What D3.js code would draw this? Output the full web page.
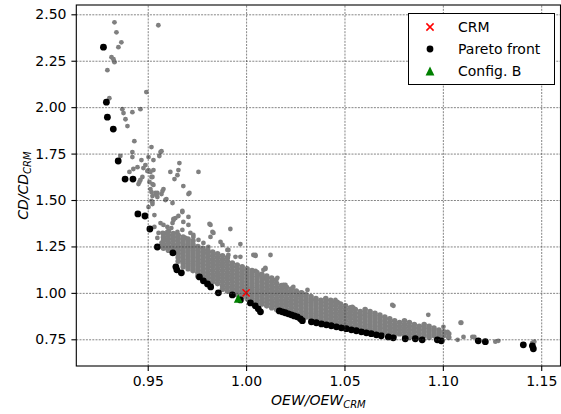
<!DOCTYPE html>
<html>
<head>
<meta charset="utf-8">
<script src="https://cdn.jsdelivr.net/npm/d3@7"></script>
<style>
  body { margin: 0; background: #fff; }
  svg { display: block; font-family: "DejaVu Sans", sans-serif; }
</style>
</head>
<body>
<svg id="chart"></svg>
<script>
// tick values
const xTicks = [0.95, 1.00, 1.05, 1.10, 1.15]
const yTicks = [0.75, 1.00, 1.25, 1.50, 1.75, 2.00, 2.25, 2.50]

// reference design and the chosen config
const crm = [1.000, 1.000]
const configB = [0.996, 0.970]

// non-dominated designs (OEW ratio, CD ratio)
const pareto = [
  [0.9275, 2.323], [0.9290, 2.027], [0.9295, 1.946], [0.9325, 1.882], [0.9350, 1.710],
  [0.9385, 1.613], [0.9425, 1.613], [0.9450, 1.425], [0.9486, 1.414], [0.9511, 1.344],
  [0.9549, 1.247], [0.9628, 1.215], [0.9643, 1.140], [0.9648, 1.124], [0.9671, 1.108],
  [0.9763, 1.086], [0.9783, 1.065], [0.9804, 1.048], [0.9820, 1.032], [0.9859, 1.000],
  [0.9930, 0.989], [0.9971, 0.962], [1.0022, 0.946], [1.0047, 0.930], [1.0062, 0.914],
  [1.0073, 0.898],
  [1.0169, 0.903], [1.0184, 0.898], [1.0199, 0.893], [1.0215, 0.887], [1.0230, 0.882],
  [1.0245, 0.876], [1.0260, 0.871], [1.0276, 0.860], [1.0286, 0.850],
  [1.0332, 0.844], [1.0357, 0.839], [1.0383, 0.833], [1.0408, 0.828], [1.0433, 0.823],
  [1.0459, 0.817], [1.0484, 0.812], [1.0509, 0.807], [1.0535, 0.801], [1.0560, 0.796],
  [1.0586, 0.790], [1.0611, 0.785], [1.0636, 0.780], [1.0662, 0.774], [1.0687, 0.769],
  [1.0723, 0.763], [1.0748, 0.758],
  [1.0809, 0.753], [1.0860, 0.753], [1.0895, 0.747], [1.0972, 0.747], [1.0992, 0.742],
  [1.1180, 0.742], [1.1216, 0.737], [1.1409, 0.720], [1.1455, 0.715], [1.1460, 0.699]
]

// scattered designs away from the dense band
const sparse = [
  [0.9331, 2.457], [0.9341, 2.403], [0.9366, 2.349], [0.9351, 2.323], [0.9316, 2.269],
  [0.9326, 2.258], [0.9331, 2.242], [0.9295, 2.199], [0.9305, 2.048], [0.9493, 2.081],
  [0.9554, 2.441], [0.9371, 1.989], [0.9377, 1.968], [0.9422, 1.973], [0.9463, 1.989],
  [0.9387, 1.935], [0.9397, 1.898], [0.9432, 1.817], [0.9519, 1.785], [0.9570, 1.763],
  [0.9559, 1.737], [0.9361, 1.737], [0.9422, 1.758], [0.9422, 1.731], [0.9661, 1.699],
  [0.9615, 1.651], [0.9656, 1.661], [0.9651, 1.634], [0.9636, 1.613], [0.9758, 1.651],
  [0.9681, 1.575], [0.9468, 1.715], [0.9488, 1.688], [0.9448, 1.677], [0.9427, 1.667],
  [0.9407, 1.651], [0.9478, 1.672], [0.9498, 1.656], [0.9514, 1.651], [0.9529, 1.661],
  [0.9519, 1.624], [0.9463, 1.608], [0.9453, 1.586], [0.9514, 1.559], [0.9524, 1.586],
  [0.9580, 1.559], [0.9570, 1.532], [0.9544, 1.527], [0.9524, 1.521], [0.9519, 1.495],
  [0.9524, 1.478], [0.9595, 1.505], [0.9626, 1.484], [0.9707, 1.532], [0.9676, 1.441],
  [0.9656, 1.414], [0.9707, 1.409], [0.9631, 1.398], [0.9534, 1.419], [0.9504, 1.462],
  [0.9504, 1.731], [0.9529, 1.715], [0.9504, 1.661], [0.9524, 1.624], [0.9509, 1.597],
  [0.9529, 1.581], [0.9519, 1.543], [0.9549, 1.538], [0.9575, 1.548], [0.9458, 1.597],
  [0.9473, 1.624], [0.9565, 1.758], [0.9539, 1.538], [0.9549, 1.516], [0.9590, 1.500],
  [0.9712, 1.538], [0.9524, 1.489], [0.9580, 1.366], [0.9600, 1.355], [0.9626, 1.376],
  [0.9631, 1.392], [0.9641, 1.403], [0.9676, 1.435], [0.9681, 1.382], [0.9707, 1.366],
  [0.9717, 1.323], [0.9732, 1.312], [0.9814, 1.371], [0.9834, 1.323], [0.9920, 1.344],
  [0.9819, 1.366], [0.9819, 1.301], [0.9870, 1.274], [0.9971, 1.263], [1.0037, 1.204],
  [0.9946, 1.194], [0.9910, 1.231], [1.0048, 1.199], [1.0098, 1.129], [1.0154, 1.070],
  [1.0200, 1.043], [1.0261, 0.989], [1.0048, 1.118], [1.0098, 1.134], [1.0088, 1.081],
  [1.0149, 1.070], [1.0190, 1.043], [1.0124, 1.204], [1.0073, 1.097], [1.0464, 0.951],
  [1.0545, 0.919], [1.0749, 0.930], [1.0926, 0.882], [1.1094, 0.839], [1.1003, 0.817],
  [0.9565, 1.376], [0.9575, 1.323], [0.9600, 1.328], [0.9620, 1.349], [0.9651, 1.328],
  [0.9676, 1.339], [0.9692, 1.296], [0.9732, 1.301], [0.9758, 1.285], [0.9783, 1.269],
  [0.9808, 1.247], [0.9829, 1.328], [0.9880, 1.258], [0.9905, 1.231], [0.9803, 1.215],
  [0.9910, 1.204], [0.9971, 1.194], [1.0047, 1.204], [0.9981, 1.124], [1.0088, 1.124],
  [1.0159, 1.081], [1.0240, 1.032], [1.0286, 1.000], [1.0312, 1.016], [1.0352, 0.962],
  [1.0454, 0.962], [1.0469, 0.946], [1.0540, 0.925], [1.0743, 0.935],
  [0.9534, 1.355], [0.9555, 1.323], [0.9549, 1.296], [0.9590, 1.285], [0.9570, 1.269],
  [1.1024, 0.790], [1.1075, 0.747], [1.1090, 0.839], [1.1105, 0.763], [1.1150, 0.763],
  [1.1160, 0.763], [1.1267, 0.737], [1.1282, 0.742], [1.1455, 0.731], [1.1465, 0.737]
]

// dense band of designs, read column by column: [OEW ratio, [CD ratios]]
const band = [
  [0.9580, [1.24, 1.26, 1.28, 1.30, 1.32]],
  [0.9605, [1.23, 1.25, 1.27, 1.29, 1.31, 1.33]],
  [0.9630, [1.24, 1.26, 1.28, 1.30, 1.32]],
  [0.9655, [1.17, 1.19, 1.21, 1.23, 1.25, 1.27, 1.29, 1.31]],
  [0.9680, [1.14, 1.16, 1.18, 1.20, 1.22, 1.24, 1.26, 1.28, 1.30]],
  [0.9705, [1.13, 1.15, 1.17, 1.19, 1.21, 1.23, 1.25, 1.27, 1.29]],
  [0.9730, [1.12, 1.14, 1.16, 1.18, 1.20, 1.22, 1.24, 1.26, 1.28]],
  [0.9755, [1.09, 1.11, 1.13, 1.15, 1.17, 1.19, 1.21, 1.23, 1.25]],
  [0.9780, [1.08, 1.10, 1.12, 1.14, 1.16, 1.18, 1.20, 1.22, 1.24]],
  [0.9805, [1.07, 1.09, 1.11, 1.13, 1.15, 1.17, 1.19, 1.21, 1.23]],
  [0.9830, [1.06, 1.08, 1.10, 1.12, 1.14, 1.16, 1.18, 1.20, 1.22]],
  [0.9855, [1.05, 1.07, 1.09, 1.11, 1.13, 1.15, 1.17, 1.19, 1.21]],
  [0.9880, [1.02, 1.04, 1.06, 1.08, 1.10, 1.12, 1.14, 1.16, 1.18, 1.20]],
  [0.9905, [1.01, 1.03, 1.05, 1.07, 1.09, 1.11, 1.13, 1.15, 1.17, 1.19]],
  [0.9930, [1.00, 1.02, 1.04, 1.06, 1.08, 1.10, 1.12, 1.14, 1.16]],
  [0.9955, [0.99, 1.01, 1.03, 1.05, 1.07, 1.09, 1.11, 1.13, 1.15]],
  [0.9980, [0.98, 1.00, 1.02, 1.04, 1.06, 1.08, 1.10, 1.12, 1.14]],
  [1.0005, [0.97, 0.99, 1.01, 1.03, 1.05, 1.07, 1.09, 1.11, 1.13]],
  [1.0030, [0.96, 0.98, 1.00, 1.02, 1.04, 1.06, 1.08, 1.10, 1.12]],
  [1.0055, [0.95, 0.97, 0.99, 1.01, 1.03, 1.05, 1.07, 1.09, 1.11]],
  [1.0080, [0.94, 0.96, 0.98, 1.00, 1.02, 1.04, 1.06, 1.08, 1.10]],
  [1.0105, [0.93, 0.95, 0.97, 0.99, 1.01, 1.03, 1.05, 1.07, 1.09]],
  [1.0130, [0.92, 0.94, 0.96, 0.98, 1.00, 1.02, 1.04, 1.06, 1.08]],
  [1.0155, [0.91, 0.93, 0.95, 0.97, 0.99, 1.01, 1.03, 1.05]],
  [1.0180, [0.92, 0.94, 0.96, 0.98, 1.00, 1.02, 1.04]],
  [1.0205, [0.91, 0.93, 0.95, 0.97, 0.99, 1.01, 1.03]],
  [1.0230, [0.90, 0.92, 0.94, 0.96, 0.98, 1.00, 1.02]],
  [1.0255, [0.89, 0.91, 0.93, 0.95, 0.97, 0.99, 1.01]],
  [1.0280, [0.88, 0.90, 0.92, 0.94, 0.96, 0.98, 1.00]],
  [1.0305, [0.87, 0.89, 0.91, 0.93, 0.95, 0.97, 0.99]],
  [1.0330, [0.86, 0.88, 0.90, 0.92, 0.94, 0.96, 0.98]],
  [1.0355, [0.85, 0.87, 0.89, 0.91, 0.93, 0.95, 0.97]],
  [1.0380, [0.86, 0.88, 0.90, 0.92, 0.94, 0.96]],
  [1.0405, [0.85, 0.87, 0.89, 0.91, 0.93, 0.95, 0.97]],
  [1.0430, [0.84, 0.86, 0.88, 0.90, 0.92, 0.94, 0.96]],
  [1.0455, [0.83, 0.85, 0.87, 0.89, 0.91, 0.93, 0.95]],
  [1.0480, [0.84, 0.86, 0.88, 0.90, 0.92, 0.94]],
  [1.0505, [0.83, 0.85, 0.87, 0.89, 0.91, 0.93]],
  [1.0530, [0.82, 0.84, 0.86, 0.88, 0.90, 0.92]],
  [1.0555, [0.81, 0.83, 0.85, 0.87, 0.89, 0.91]],
  [1.0580, [0.82, 0.84, 0.86, 0.88, 0.90]],
  [1.0605, [0.81, 0.83, 0.85, 0.87, 0.89, 0.91]],
  [1.0630, [0.80, 0.82, 0.84, 0.86, 0.88, 0.90]],
  [1.0655, [0.79, 0.81, 0.83, 0.85, 0.87, 0.89]],
  [1.0680, [0.80, 0.82, 0.84, 0.86, 0.88]],
  [1.0705, [0.79, 0.81, 0.83, 0.85, 0.87]],
  [1.0730, [0.78, 0.80, 0.82, 0.84, 0.86]],
  [1.0755, [0.77, 0.79, 0.81, 0.83, 0.85]],
  [1.0780, [0.78, 0.80, 0.82, 0.84]],
  [1.0805, [0.77, 0.79, 0.81, 0.83, 0.85]],
  [1.0830, [0.76, 0.78, 0.80, 0.82, 0.84]],
  [1.0855, [0.77, 0.79, 0.81, 0.83]],
  [1.0880, [0.76, 0.78, 0.80, 0.82]],
  [1.0905, [0.77, 0.79, 0.81, 0.83]],
  [1.0930, [0.76, 0.78, 0.80, 0.82]],
  [1.0955, [0.77, 0.79, 0.81]],
  [1.0980, [0.76, 0.78, 0.80]],
  [1.1005, [0.77, 0.79]],
  [1.1030, [0.76, 0.78]]
]

const Width = 561
const Height = 414
const Plot = { left: 76.3, right: 560.5, top: 5, bottom: 366 }

const SVG = d3.select('#chart').attr('width', Width).attr('height', Height)

const xscale = d3.scaleLinear()
  .domain([0.9137, 1.1598])
  .range([Plot.left, Plot.right])

const yscale = d3.scaleLinear()
  .domain([0.6062, 2.5501])
  .range([Plot.bottom, Plot.top])

// band points as flat pairs
let bandPts = []
band.forEach(col => col[1].forEach(y => bandPts.push([col[0], y])))

SVG.append('defs').append('clipPath').attr('id', 'clip')
  .append('rect')
  .attr('x', Plot.left).attr('y', Plot.top)
  .attr('width', Plot.right - Plot.left).attr('height', Plot.bottom - Plot.top)

const marks = SVG.append('g').attr('clip-path', 'url(#clip)')

// dense band, a bit larger so the cloud reads as solid
marks.append('g').selectAll('circle')
  .data(bandPts)
  .join('circle')
  .attr('cx', d => xscale(d[0]))
  .attr('cy', d => yscale(d[1]))
  .attr('r', 2.8)
  .attr('fill', '#808080')

marks.append('g').selectAll('circle')
  .data(sparse)
  .join('circle')
  .attr('cx', d => xscale(d[0]))
  .attr('cy', d => yscale(d[1]))
  .attr('r', 2.4)
  .attr('fill', '#808080')

marks.append('g').selectAll('circle')
  .data(pareto)
  .join('circle')
  .attr('cx', d => xscale(d[0]))
  .attr('cy', d => yscale(d[1]))
  .attr('r', 3.4)
  .attr('fill', '#000')

// dashed grid on top of the scatter, like matplotlib
const xGrid = d3.axisBottom(xscale).tickValues(xTicks).tickSize(-(Plot.bottom - Plot.top)).tickFormat('')
const yGrid = d3.axisLeft(yscale).tickValues(yTicks).tickSize(-(Plot.right - Plot.left)).tickFormat('')

SVG.append('g')
  .attr('transform', `translate(0, ${Plot.bottom})`)
  .call(xGrid)
  .call(g => g.select('.domain').remove())
  .selectAll('line')
  .attr('stroke', '#333')
  .attr('stroke-width', 0.6)
  .attr('stroke-dasharray', '2,1.2')

SVG.append('g')
  .attr('transform', `translate(${Plot.left}, 0)`)
  .call(yGrid)
  .call(g => g.select('.domain').remove())
  .selectAll('line')
  .attr('stroke', '#333')
  .attr('stroke-width', 0.6)
  .attr('stroke-dasharray', '2,1.2')

function crossMark(g, cx, cy) {
  const s = 3.6
  g.append('path')
    .attr('d', `M${cx - s},${cy - s}L${cx + s},${cy + s}M${cx - s},${cy + s}L${cx + s},${cy - s}`)
    .attr('stroke', '#ff0000')
    .attr('stroke-width', 1.5)
    .attr('fill', 'none')
}

function triMark(g, cx, cy) {
  const s = 4.4
  g.append('path')
    .attr('d', `M${cx},${cy - s}L${cx - s},${cy + s}L${cx + s},${cy + s}Z`)
    .attr('fill', '#008000')
}

triMark(marks, xscale(configB[0]), yscale(configB[1]))
crossMark(marks, xscale(crm[0]), yscale(crm[1]))

// axes
const bottom = d3.axisBottom(xscale).tickValues(xTicks).tickFormat(d3.format('.2f'))
  .tickSizeOuter(0).tickSizeInner(4.9).tickPadding(4.9)
const left = d3.axisLeft(yscale).tickValues(yTicks).tickFormat(d3.format('.2f'))
  .tickSizeOuter(0).tickSizeInner(4.9).tickPadding(4.9)

SVG.append('g')
  .attr('transform', `translate(0, ${Plot.bottom})`)
  .call(bottom)
  .call(g => g.select('.domain').remove())
  .call(g => g.selectAll('line').attr('stroke', '#000').attr('stroke-width', 1.1))
  .call(g => g.selectAll('text').attr('fill', '#000').style('font-size', '14px').style('font-family', '"DejaVu Sans", sans-serif'))

SVG.append('g')
  .attr('transform', `translate(${Plot.left}, 0)`)
  .call(left)
  .call(g => g.select('.domain').remove())
  .call(g => g.selectAll('line').attr('stroke', '#000').attr('stroke-width', 1.1))
  .call(g => g.selectAll('text').attr('fill', '#000').style('font-size', '14px').style('font-family', '"DejaVu Sans", sans-serif'))

// spines
SVG.append('rect')
  .attr('x', Plot.left).attr('y', Plot.top)
  .attr('width', Plot.right - Plot.left).attr('height', Plot.bottom - Plot.top)
  .attr('fill', 'none')
  .attr('stroke', '#000')
  .attr('stroke-width', 1.1)

// axis labels
const xl = SVG.append('text')
  .attr('x', (Plot.left + Plot.right) / 2)
  .attr('y', 405)
  .attr('text-anchor', 'middle')
  .style('font-size', '14px')
  .style('font-style', 'italic')
xl.append('tspan').text('OEW/OEW')
xl.append('tspan').text('CRM').style('font-size', '10px').attr('dy', 3)

const yl = SVG.append('text')
  .attr('transform', `translate(28, ${(Plot.top + Plot.bottom) / 2}) rotate(-90)`)
  .attr('text-anchor', 'middle')
  .style('font-size', '14px')
  .style('font-style', 'italic')
yl.append('tspan').text('CD/CD')
yl.append('tspan').text('CRM').style('font-size', '10px').attr('dy', 3)

// legend
const legend = SVG.append('g')
legend.append('rect')
  .attr('x', 408.5).attr('y', 13.5)
  .attr('width', 146).attr('height', 71)
  .attr('fill', '#fff')
  .attr('stroke', '#000')
  .attr('stroke-width', 1)

const entries = ['CRM', 'Pareto front', 'Config. B']
entries.forEach((name, i) => {
  const cy = 27 + i * 22
  if (i == 0) crossMark(legend, 430, cy)
  if (i == 1) legend.append('circle').attr('cx', 430).attr('cy', cy).attr('r', 3.4).attr('fill', '#000')
  if (i == 2) triMark(legend, 430, cy)
  legend.append('text')
    .text(name)
    .attr('x', 458)
    .attr('y', cy + 4.8)
    .style('font-size', '14px')
})
</script>
</body>
</html>
